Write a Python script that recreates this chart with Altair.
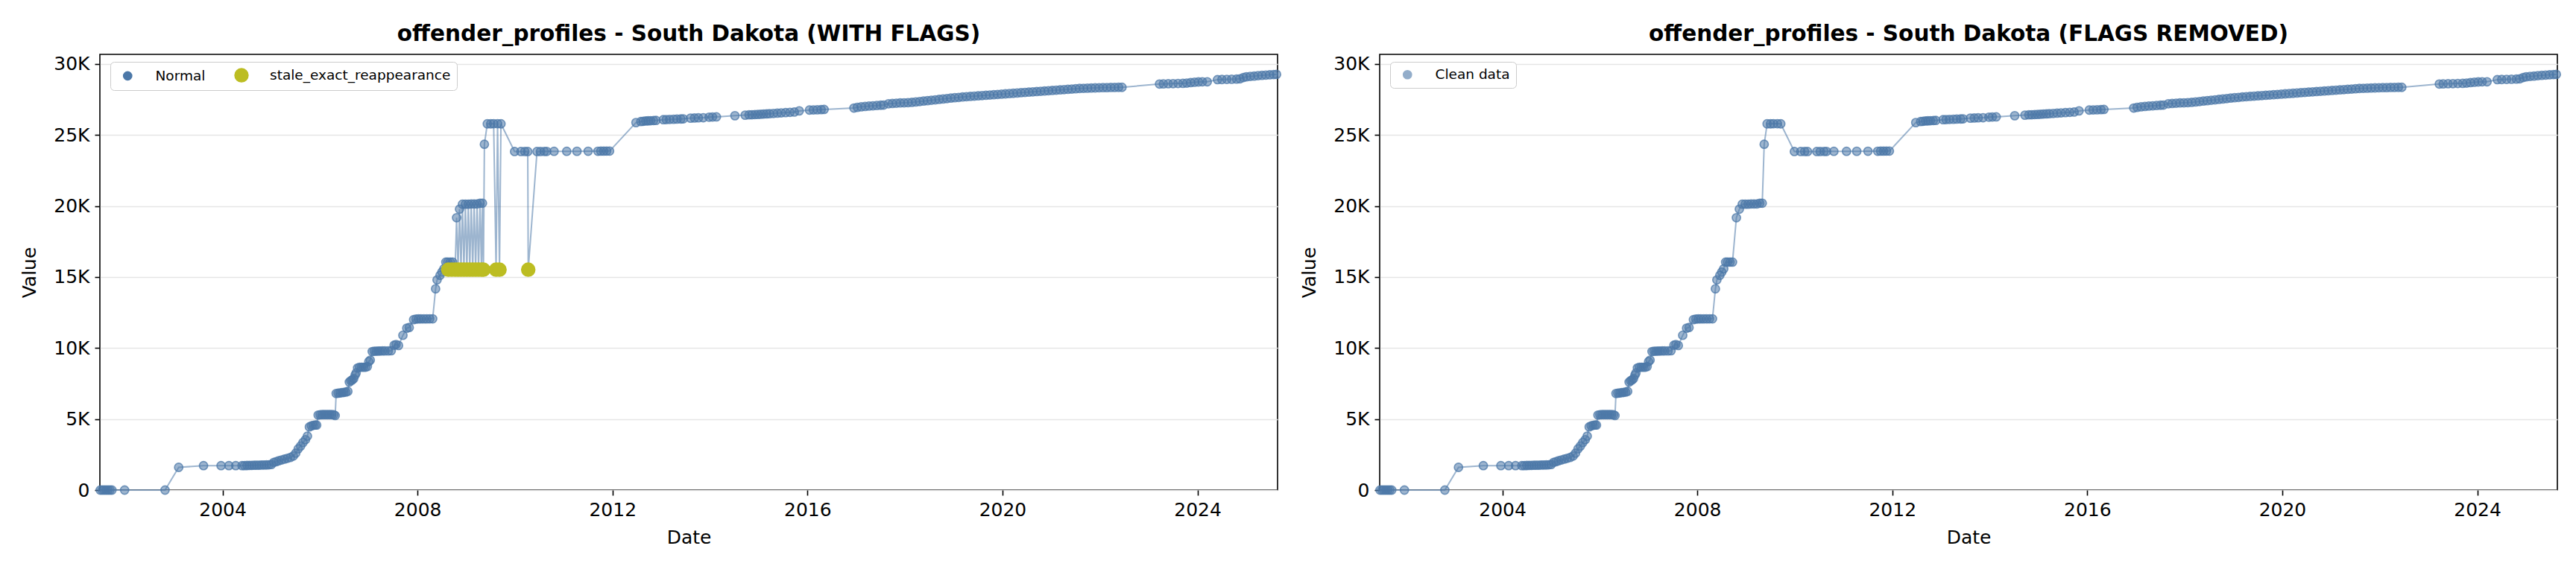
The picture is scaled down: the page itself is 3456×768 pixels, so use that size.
import altair as alt
import pandas as pd

BLUE = "#4C78A8"
OLIVE = "#BCBD22"

# (decimal year, value) for the regular observations
normal_points = [
    (2001.49, 0), (2001.53, 0), (2001.57, 0), (2001.61, 0), (2001.65, 0), (2001.69, 0), (2001.73, 0),
    (2001.99, 0), (2002.82, 0),
    (2003.10, 1600), (2003.61, 1720), (2003.97, 1720), (2004.13, 1720), (2004.27, 1720),
    (2004.40, 1720), (2004.45, 1725), (2004.50, 1730), (2004.55, 1735), (2004.60, 1740), (2004.65, 1745),
    (2004.70, 1750), (2004.75, 1755), (2004.80, 1760), (2004.85, 1765), (2004.90, 1770), (2004.95, 1780),
    (2005.00, 1800),
    (2005.05, 1950), (2005.10, 2000), (2005.15, 2060), (2005.21, 2120), (2005.27, 2180), (2005.33, 2240),
    (2005.39, 2300), (2005.45, 2400), (2005.50, 2600), (2005.55, 2900), (2005.60, 3100), (2005.65, 3350),
    (2005.70, 3550), (2005.74, 3800),
    (2005.78, 4450), (2005.82, 4520), (2005.86, 4560), (2005.90, 4580), (2005.93, 4580),
    (2005.96, 5280), (2006.00, 5300), (2006.04, 5310), (2006.08, 5310), (2006.12, 5310), (2006.16, 5310),
    (2006.20, 5310), (2006.24, 5310), (2006.28, 5300), (2006.31, 5250),
    (2006.33, 6800), (2006.37, 6820), (2006.41, 6840), (2006.45, 6860), (2006.49, 6880), (2006.53, 6900),
    (2006.57, 6950),
    (2006.60, 7600), (2006.63, 7700), (2006.66, 7750), (2006.69, 7850),
    (2006.72, 8100), (2006.74, 8250),
    (2006.77, 8600), (2006.81, 8650), (2006.85, 8650), (2006.89, 8650), (2006.93, 8650), (2006.97, 8700),
    (2007.00, 9050), (2007.03, 9150),
    (2007.07, 9750), (2007.11, 9780), (2007.15, 9780), (2007.19, 9790), (2007.23, 9790), (2007.28, 9800),
    (2007.33, 9800), (2007.40, 9800), (2007.46, 9810),
    (2007.52, 10200), (2007.56, 10250), (2007.61, 10180),
    (2007.70, 10900), (2007.78, 11400), (2007.83, 11450),
    (2007.92, 12000), (2007.97, 12040), (2008.02, 12050), (2008.07, 12050), (2008.13, 12050),
    (2008.19, 12050), (2008.25, 12060), (2008.31, 12060),
    (2008.37, 14170), (2008.40, 14800), (2008.46, 15120), (2008.50, 15350), (2008.54, 15580),
    (2008.58, 16050), (2008.62, 16050), (2008.67, 16050), (2008.72, 16050),
    (2008.80, 19180), (2008.86, 19780), (2008.92, 20130), (2008.98, 20130), (2009.04, 20130),
    (2009.10, 20150), (2009.16, 20150), (2009.22, 20150), (2009.28, 20200), (2009.33, 20200),
    (2009.37, 24350), (2009.43, 25790), (2009.50, 25790), (2009.56, 25800), (2009.64, 25800), (2009.71, 25790),
    (2009.99, 23840), (2010.12, 23840), (2010.20, 23840), (2010.26, 23840), (2010.45, 23840),
    (2010.52, 23840), (2010.60, 23845), (2010.65, 23845), (2010.80, 23850), (2011.06, 23850),
    (2011.27, 23855), (2011.50, 23860), (2011.70, 23860), (2011.76, 23865), (2011.82, 23865),
    (2011.88, 23870), (2011.94, 23870),
    (2012.48, 25875), (2012.58, 25950), (2012.63, 25970), (2012.68, 25990), (2012.73, 26000),
    (2012.78, 26010), (2012.84, 26020), (2012.89, 26030),
    (2013.04, 26080), (2013.10, 26090), (2013.17, 26100), (2013.25, 26110), (2013.32, 26120),
    (2013.40, 26130), (2013.45, 26140),
    (2013.60, 26190), (2013.68, 26200), (2013.76, 26210), (2013.86, 26220),
    (2013.98, 26260), (2014.05, 26270), (2014.13, 26280),
    (2014.51, 26360),
    (2014.72, 26400), (2014.80, 26420), (2014.86, 26430), (2014.92, 26440), (2014.98, 26450),
    (2015.04, 26460), (2015.10, 26480), (2015.16, 26490), (2015.22, 26500), (2015.30, 26520),
    (2015.38, 26540), (2015.46, 26560), (2015.55, 26580), (2015.64, 26600), (2015.73, 26620),
    (2015.83, 26700),
    (2016.04, 26760), (2016.12, 26770), (2016.20, 26780), (2016.28, 26790), (2016.34, 26800),
    (2016.95, 26900), (2017.02, 26950), (2017.10, 26990), (2017.18, 27010), (2017.26, 27040),
    (2017.34, 27060), (2017.42, 27080), (2017.50, 27100), (2017.56, 27110),
    (2017.66, 27200), (2017.74, 27220), (2017.82, 27240), (2017.90, 27260), (2017.98, 27270),
    (2018.06, 27280),
    (2018.14, 27300), (2018.22, 27330), (2018.30, 27360), (2018.38, 27390), (2018.46, 27420),
    (2018.54, 27450), (2018.62, 27480), (2018.70, 27510), (2018.78, 27540), (2018.86, 27570),
    (2018.94, 27600), (2019.02, 27630), (2019.10, 27650), (2019.18, 27680), (2019.26, 27700),
    (2019.34, 27720), (2019.42, 27740), (2019.50, 27760), (2019.58, 27780), (2019.66, 27800),
    (2019.74, 27820), (2019.82, 27840), (2019.90, 27860), (2019.98, 27880), (2020.06, 27900),
    (2020.14, 27920), (2020.22, 27940), (2020.30, 27960), (2020.38, 27980), (2020.46, 28000),
    (2020.54, 28020), (2020.62, 28040), (2020.70, 28060), (2020.78, 28080), (2020.86, 28100),
    (2020.94, 28120), (2021.02, 28140), (2021.10, 28160), (2021.18, 28180), (2021.26, 28200),
    (2021.34, 28220), (2021.42, 28240), (2021.50, 28260), (2021.58, 28280), (2021.66, 28290),
    (2021.74, 28300), (2021.82, 28310), (2021.90, 28320), (2021.98, 28330), (2022.06, 28340),
    (2022.14, 28340), (2022.22, 28350), (2022.30, 28350), (2022.38, 28360), (2022.45, 28360),
    (2023.22, 28590), (2023.30, 28600), (2023.40, 28610), (2023.50, 28620), (2023.60, 28630),
    (2023.70, 28640), (2023.78, 28660), (2023.86, 28690), (2023.94, 28720), (2024.02, 28740),
    (2024.10, 28750), (2024.20, 28750),
    (2024.41, 28900), (2024.50, 28910), (2024.60, 28920), (2024.70, 28930), (2024.80, 28940),
    (2024.87, 28960),
    (2024.94, 29050), (2025.00, 29100), (2025.08, 29130), (2025.16, 29150), (2025.24, 29180),
    (2025.32, 29200), (2025.40, 29220), (2025.48, 29240), (2025.56, 29260), (2025.62, 29270),
]

# flagged "stale_exact_reappearance" observations
flag_years = [2008.63, 2008.70, 2008.77, 2008.83, 2008.89, 2008.95, 2009.01, 2009.07, 2009.13,
              2009.19, 2009.25, 2009.31, 2009.35, 2009.61, 2009.68, 2010.27]
flag_values = [15520] * len(flag_years)

y_ticks = [0, 5000, 10000, 15000, 20000, 25000, 30000]
x_tick_years = [2004, 2008, 2012, 2016, 2020, 2024]


def to_date(y):
    yr = int(y)
    start = pd.Timestamp(yr, 1, 1)
    end = pd.Timestamp(yr + 1, 1, 1)
    return (start + (end - start) * (y - yr)).strftime("%Y-%m-%dT%H:%M:%S")


norm_df = pd.DataFrame({
    "date": [to_date(p[0]) for p in normal_points],
    "value": [p[1] for p in normal_points],
})
flag_df = pd.DataFrame({
    "date": [to_date(y) for y in flag_years],
    "value": flag_values,
})

left_points = pd.concat([norm_df.assign(series="Normal"),
                         flag_df.assign(series="stale_exact_reappearance")], ignore_index=True)
left_line = pd.concat([norm_df, flag_df], ignore_index=True).sort_values("date")
right_points = norm_df.assign(series="Clean data")
right_line = norm_df

W, H = 1580, 585


def panel(points, line, title, labels, fills, sizes, fops, sops, sym_opacity):
    x = alt.X("date:T", title="Date",
              scale=alt.Scale(domain=[alt.DateTime(year=2001, month=6, date=26),
                                      alt.DateTime(year=2025, month=8, date=23)], nice=False),
              axis=alt.Axis(values=[alt.DateTime(year=y, month=1, date=1) for y in x_tick_years],
                            format="%Y", grid=False))
    y = alt.Y("value:Q", title="Value",
              scale=alt.Scale(domain=[0, 30680], nice=False),
              axis=alt.Axis(values=y_ticks, grid=True,
                            labelExpr="datum.value == 0 ? '0' : format(datum.value / 1000, 'd') + 'K'"))
    legend = alt.Legend(title=None, orient="none", legendX=14, legendY=10, direction="horizontal",
                        labelFontSize=18.5, labelFont="DejaVu Sans", labelColor="black", labelLimit=1000,
                        padding=8, strokeColor="#cccccc", fillColor="white", cornerRadius=5,
                        symbolOffset=6, labelOffset=28, columnPadding=32, symbolType="circle",
                        symbolStrokeWidth=1.5, symbolOpacity=sym_opacity)
    line_layer = alt.Chart(line).mark_line(color=BLUE, opacity=0.55, strokeWidth=2).encode(x=x, y=y)
    pts = alt.Chart(points).mark_point(filled=True, shape="circle", strokeWidth=1.6, opacity=1).encode(
        x=x, y=y,
        fill=alt.Fill("series:N", scale=alt.Scale(domain=labels, range=fills), legend=legend),
        stroke=alt.Stroke("series:N", scale=alt.Scale(domain=labels, range=fills), legend=legend),
        size=alt.Size("series:N", scale=alt.Scale(domain=labels, range=sizes, padding=0), legend=legend),
        fillOpacity=alt.FillOpacity("series:N", scale=alt.Scale(domain=labels, range=fops, padding=0),
                                    legend=legend),
        strokeOpacity=alt.StrokeOpacity("series:N", scale=alt.Scale(domain=labels, range=sops, padding=0),
                                        legend=legend),
    )
    return alt.layer(line_layer, pts).properties(width=W, height=H, title=title)


left = panel(left_points, left_line, "offender_profiles - South Dakota (WITH FLAGS)",
             ["Normal", "stale_exact_reappearance"], [BLUE, OLIVE], [125, 320], [0.55, 1.0], [0.75, 1.0], 1)
right = panel(right_points, right_line, "offender_profiles - South Dakota (FLAGS REMOVED)",
              ["Clean data"], [BLUE], [125, 125], [0.55, 0.55], [0.75, 0.75], 0.6)

chart = alt.hconcat(left, right, spacing=20).resolve_scale(
    fill="independent", stroke="independent", size="independent",
    fillOpacity="independent", strokeOpacity="independent",
).properties(
    padding={"left": 18, "top": 21, "right": 5, "bottom": 5},
    background="white",
).configure(font="DejaVu Sans").configure_view(
    stroke="black", strokeWidth=1.6
).configure_axis(
    domain=False, tickColor="black", tickWidth=1.6, tickSize=7,
    labelFontSize=25, titleFontSize=25, labelColor="black", titleColor="black",
    titleFontWeight="normal", labelFont="DejaVu Sans", titleFont="DejaVu Sans",
    gridColor="#e5e5e5", gridWidth=1.5, labelPadding=7,
).configure_axisY(titlePadding=19).configure_axisX(titlePadding=12).configure_title(
    fontSize=29.5, font="DejaVu Sans", fontWeight="bold", offset=12, color="black"
)

chart.save("out.html", embed_options={"renderer": "svg", "actions": False})
